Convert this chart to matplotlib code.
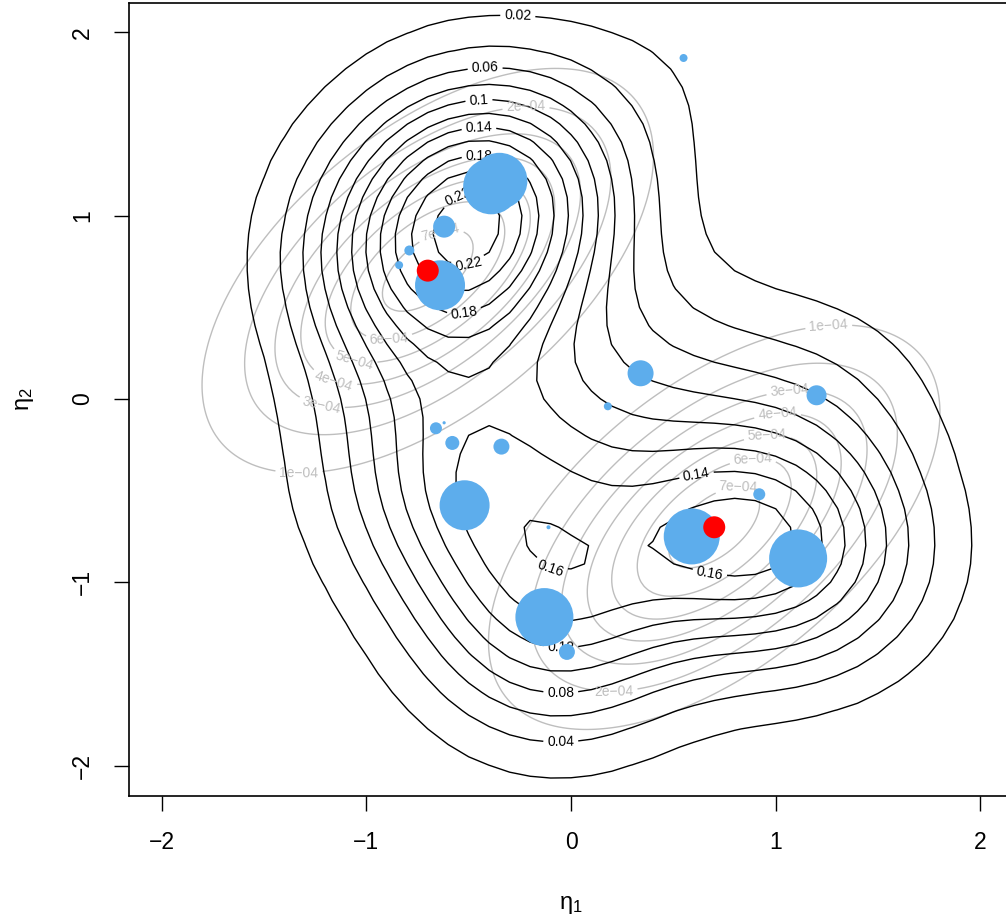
import numpy as np
import matplotlib.pyplot as plt

# posterior atoms (blue points): location, mixture weight, symbol size (cex)
atom_x = [-0.39, -0.35, -0.62, -0.79, -0.84, -0.64, 0.55, 0.34, 0.18, 1.20,
          -0.66, -0.62, -0.58, -0.34, -0.52, -0.11, -0.13, -0.02, 0.59, 0.92, 1.11]
atom_y = [1.16, 1.19, 0.94, 0.81, 0.73, 0.62, 1.86, 0.14, -0.04, 0.02,
          -0.16, -0.13, -0.24, -0.26, -0.58, -0.70, -1.19, -1.38, -0.75, -0.52, -0.87]
atom_w = [0.090, 0.090, 0.055, 0.010, 0.010, 0.120, 0.015, 0.040, 0.015, 0.035,
          0.025, 0.004, 0.025, 0.028, 0.072, 0.036, 0.088, 0.040, 0.090, 0.030, 0.132]
atom_cex = [7.0, 7.0, 2.75, 1.25, 1.0, 6.25, 1.0, 3.25, 1.0, 2.5,
            1.5, 0.4, 1.75, 2.0, 6.25, 0.5, 7.25, 2.0, 7.0, 1.5, 7.25]

# true component means (red points)
true_x = [-0.70, 0.70]
true_y = [0.70, -0.70]
true_var = 0.30
true_cov = 0.17
true_scale = 2.36e-3

dens_levels = [0.02, 0.04, 0.06, 0.08, 0.10, 0.12, 0.14, 0.16, 0.18, 0.20, 0.22]
true_levels = [1e-4, 2e-4, 3e-4, 4e-4, 5e-4, 6e-4, 7e-4]
bw = 0.45

ticks = [-2, -1, 0, 1, 2]

plt.rcParams['font.family'] = ['Liberation Sans', 'DejaVu Sans']

fig = plt.figure(figsize=(10.06, 9.18), dpi=100)
ax = fig.add_axes([129 / 1006, 122 / 918, 884 / 1006, 793 / 918])
ax.set_xlim(-2.16, 2.16)
ax.set_ylim(-2.166, 2.16)

# true density (gray)
g = np.linspace(-2.3, 2.3, 231)
GX, GY = np.meshgrid(g, g)
det = true_var ** 2 - true_cov ** 2
Z_true = np.zeros_like(GX)
for mx, my in zip(true_x, true_y):
    dx, dy = GX - mx, GY - my
    q = (true_var * dx ** 2 + true_var * dy ** 2 - 2 * true_cov * dx * dy) / det
    Z_true += 0.5 * np.exp(-0.5 * q) / (2 * np.pi * np.sqrt(det))
Z_true *= true_scale

cs_t = ax.contour(GX, GY, Z_true, levels=true_levels, colors='#BEBEBE', linewidths=1.0)
t_pos = [(-1.33, -0.39), (1.26, 0.39), (-0.22, 1.59), (0.21, -1.59),
         (-1.22, -0.04), (1.07, 0.03), (-1.16, 0.09), (1.01, -0.10),
         (-1.06, 0.21), (0.96, -0.22), (-0.89, 0.34), (0.89, -0.35),
         (-0.63, 0.88), (0.82, -0.52)]
ax.clabel(cs_t, manual=t_pos, inline=True, fontsize=10, colors='#BEBEBE',
          fmt=lambda v: ('%.0e' % v).replace('-', '\u2212'), inline_spacing=4)

# estimated density (black): mixture of the atoms
k = np.linspace(-2.2, 2.2, 45)
KX, KY = np.meshgrid(k, k)
w = np.array(atom_w) / np.sum(atom_w)
Z_est = np.zeros_like(KX)
for xi, yi, wi in zip(atom_x, atom_y, w):
    Z_est += wi * np.exp(-((KX - xi) ** 2 + (KY - yi) ** 2) / (2 * bw ** 2))
Z_est /= 2 * np.pi * bw ** 2

cs_e = ax.contour(KX, KY, Z_est, levels=dens_levels, colors='black', linewidths=1.0)
e_pos = [(-0.26, 2.09), (-0.05, -1.87), (-0.42, 1.81), (-0.05, -1.61),
         (-0.45, 1.63), (-0.05, -1.37), (-0.45, 1.48), (0.61, -0.39),
         (-0.52, 0.41), (-0.12, -0.97), (0.69, -0.89), (-0.45, 1.33),
         (-0.49, 0.67), (-0.55, 1.09)]
ax.clabel(cs_e, manual=e_pos, inline=True, fontsize=10, colors='black',
          fmt=lambda v: '%g' % v, inline_spacing=4)

# points
rad = 4.0 * np.array(atom_cex)
ax.scatter(atom_x, atom_y, s=(2 * rad * 0.72) ** 2, color='#5DADEC',
           edgecolors='none', zorder=5)
ax.scatter(true_x, true_y, s=(2 * 11 * 0.72) ** 2, color='red',
           edgecolors='none', zorder=6)

ax.set_xticks(ticks)
ax.set_yticks(ticks)
ax.set_xticklabels([str(t).replace('-', '\u2212') for t in ticks])
ax.set_yticklabels([str(t).replace('-', '\u2212') for t in ticks],
                   rotation=90, va='center')
ax.tick_params(direction='out', length=11, width=1, labelsize=16.5, pad=14)
for sp in ax.spines.values():
    sp.set_linewidth(1.2)

fig.text(571 / 1006, 1 - 905 / 918, r'$\mathregular{\eta_1}$', ha='center', va='center', fontsize=17)
fig.text(25 / 1006, 1 - 399 / 918, r'$\mathregular{\eta_2}$', ha='center', va='center',
         fontsize=17, rotation=90)

fig.savefig('out.png', dpi=100)
